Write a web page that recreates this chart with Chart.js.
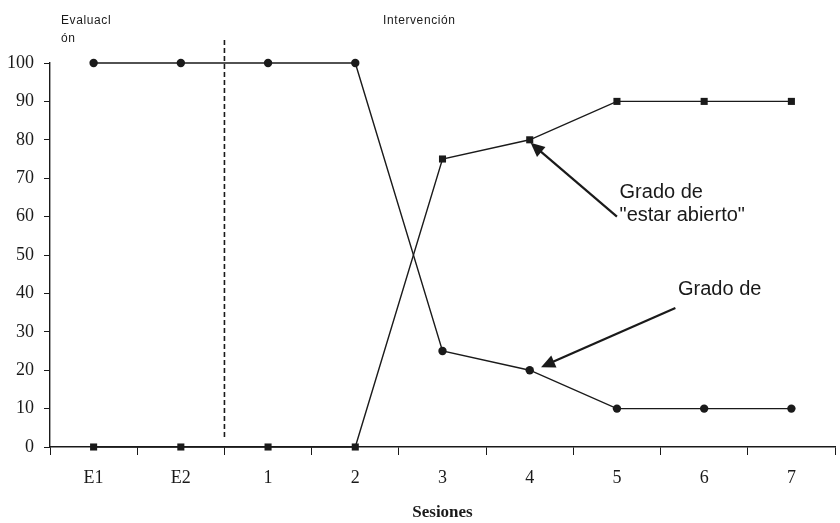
<!DOCTYPE html>
<html>
<head>
<meta charset="utf-8">
<script src="https://cdn.jsdelivr.net/npm/chart.js@4.4.1/dist/chart.umd.min.js"></script>
<style>
  html, body { margin: 0; padding: 0; background: #fff; }
  #wrap { width: 840px; height: 523px; }
</style>
</head>
<body>
<div id="wrap"><canvas id="c" width="840" height="523"></canvas></div>
<script>
const sessions = ['E1', 'E2', '1', '2', '3', '4', '5', '6', '7'];
const gradoAbierto = [0, 0, 0, 0, 75, 80, 90, 90, 90];
const gradoCerrado = [100, 100, 100, 100, 25, 20, 10, 10, 10];
const yTicks = [0, 10, 20, 30, 40, 50, 60, 70, 80, 90, 100];
const phaseLabels = ['Evaluacl', 'ón', 'Intervención'];
const annotationTexts = ['Grado de', '"estar abierto"', 'Grado de'];
const xTitle = 'Sesiones';
const phaseDivider = 1.5; // between E2 and 1 (category index)

const INK = '#1a1a1a';

const overlay = {
  id: 'overlay',
  afterDatasetsDraw(chart) {
    const ctx = chart.ctx;
    const xs = chart.scales.x, ys = chart.scales.y;
    const X = v => xs.getPixelForValue(v);
    const Y = v => ys.getPixelForValue(v);
    ctx.save();
    // dashed phase divider
    ctx.strokeStyle = INK;
    ctx.lineWidth = 1.6;
    ctx.setLineDash([5, 3]);
    ctx.beginPath();
    ctx.moveTo(X(phaseDivider), Y(106));
    ctx.lineTo(X(phaseDivider), Y(2.6));
    ctx.stroke();
    ctx.setLineDash([]);

    // phase labels
    ctx.fillStyle = INK;
    ctx.font = '12px "Liberation Sans", Arial, sans-serif';
    ctx.letterSpacing = '0.6px';
    ctx.textBaseline = 'alphabetic';
    ctx.textAlign = 'left';
    ctx.fillText(phaseLabels[0], 61, 24);
    ctx.fillText(phaseLabels[1], 61, 42);
    ctx.fillText(phaseLabels[2], 383, 24);
    ctx.letterSpacing = '0px';

    // arrows
    function arrow(x1, y1, x2, y2) {
      const ang = Math.atan2(y2 - y1, x2 - x1);
      const hl = 14, hw = 6.5;
      ctx.strokeStyle = INK;
      ctx.lineWidth = 2.2;
      ctx.beginPath();
      ctx.moveTo(x1, y1);
      ctx.lineTo(x2 - Math.cos(ang) * hl * 0.8, y2 - Math.sin(ang) * hl * 0.8);
      ctx.stroke();
      ctx.beginPath();
      ctx.moveTo(x2, y2);
      ctx.lineTo(x2 - Math.cos(ang) * hl + Math.sin(ang) * hw, y2 - Math.sin(ang) * hl - Math.cos(ang) * hw);
      ctx.lineTo(x2 - Math.cos(ang) * hl - Math.sin(ang) * hw, y2 - Math.sin(ang) * hl + Math.cos(ang) * hw);
      ctx.closePath();
      ctx.fillStyle = INK;
      ctx.fill();
    }
    arrow(X(6.0), Y(60), X(5.01), Y(79.2));
    arrow(X(6.67), Y(36.2), X(5.13), Y(20.8));

    // annotation text
    ctx.fillStyle = INK;
    ctx.font = '20px "Liberation Sans", Arial, sans-serif';
    ctx.textBaseline = 'middle';
    ctx.fillText(annotationTexts[0], X(6.03), Y(66.2));
    ctx.fillText(annotationTexts[1], X(6.03), Y(60.4));
    ctx.fillText(annotationTexts[2], X(6.7), Y(41));
    ctx.restore();
  }
};

new Chart(document.getElementById('c'), {
  type: 'line',
  data: {
    labels: sessions,
    datasets: [
      {
        label: 'Grado de',
        data: gradoCerrado,
        borderColor: INK,
        backgroundColor: INK,
        borderWidth: 1.4,
        pointStyle: 'circle',
        pointRadius: 4.2,
        pointBorderWidth: 0,
        tension: 0,
        clip: false
      },
      {
        label: 'Grado de "estar abierto"',
        data: gradoAbierto,
        borderColor: INK,
        backgroundColor: INK,
        borderWidth: 1.4,
        pointStyle: 'rect',
        pointRadius: 5,
        pointBorderWidth: 0,
        tension: 0,
        clip: false
      }
    ]
  },
  options: {
    responsive: false,
    animation: false,
    devicePixelRatio: 1,
    layout: { padding: { top: 63, right: 3, left: 0, bottom: 0 } },
    plugins: {
      legend: { display: false },
      tooltip: { enabled: false }
    },
    scales: {
      x: {
        type: 'category',
        offset: true,
        grid: {
          offset: true,
          drawOnChartArea: false,
          drawTicks: true,
          tickLength: 8,
          color: INK,
          lineWidth: 1
        },
        border: { display: true, color: INK, width: 1.4 },
        ticks: {
          color: INK,
          padding: 12,
          font: { family: '"Liberation Serif", "Times New Roman", serif', size: 18 }
        },
        title: {
          display: true,
          text: xTitle,
          color: INK,
          font: { family: '"Liberation Serif", "Times New Roman", serif', size: 17, weight: 'bold' },
          padding: { top: 1, bottom: 0 }
        },
        afterFit(scale) { scale.height = 76; }
      },
      y: {
        min: 0,
        max: 100,
        afterBuildTicks(scale) { scale.ticks = yTicks.map(v => ({ value: v })); },
        grid: {
          drawOnChartArea: false,
          drawTicks: true,
          tickLength: 6,
          color: INK,
          lineWidth: 1
        },
        border: { display: true, color: INK, width: 1.4 },
        ticks: {
          color: INK,
          padding: 10,
          font: { family: '"Liberation Serif", "Times New Roman", serif', size: 18 }
        },
        afterFit(scale) { scale.width = 50; }
      }
    }
  },
  plugins: [overlay]
});
</script>
</body>
</html>
